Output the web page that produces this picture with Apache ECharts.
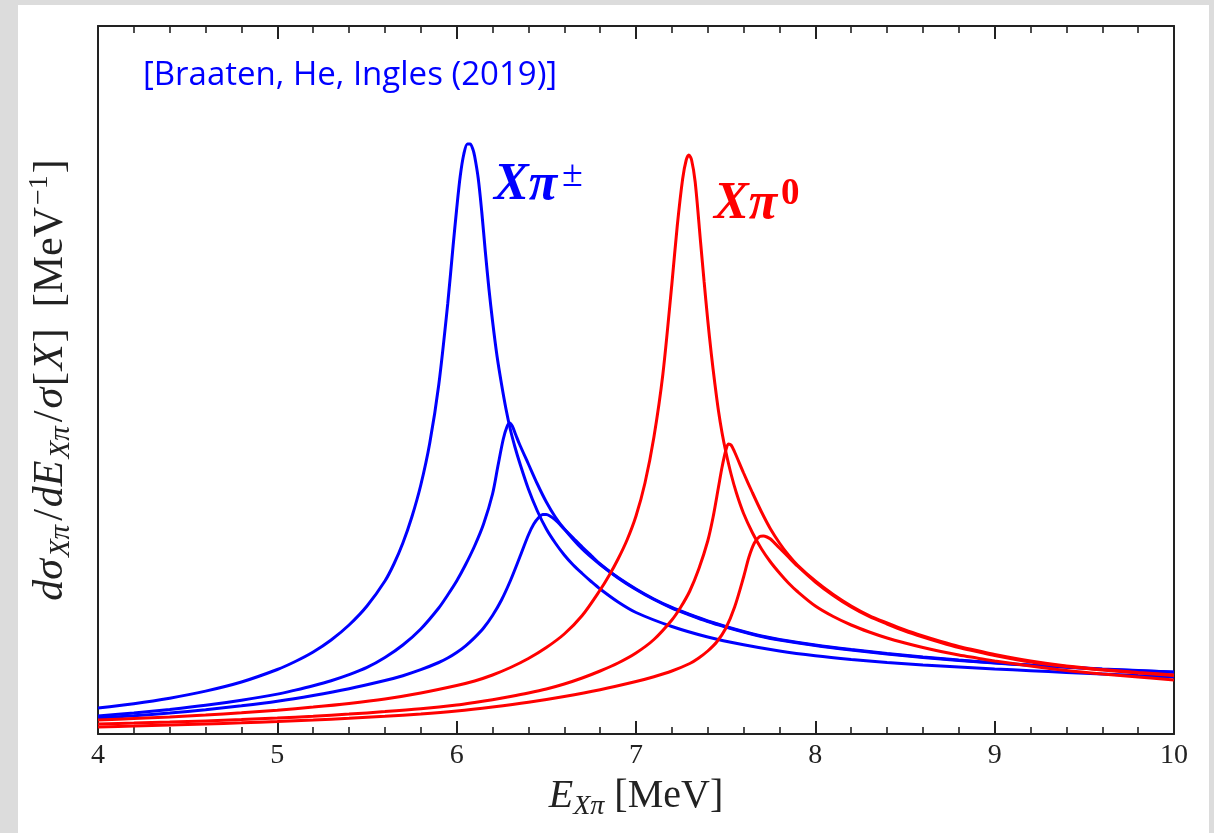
<!DOCTYPE html>
<html>
<head>
<meta charset="utf-8">
<script src="https://cdn.jsdelivr.net/npm/echarts@6/dist/echarts.min.js"></script>
<style>
  html, body { margin: 0; padding: 0; background: #dcdcdc; }
  #panel { position: absolute; left: 18px; top: 5px; width: 1191px; height: 828px; background: #ffffff; }
  #chart { position: absolute; left: 0; top: 0; width: 1214px; height: 833px; }
</style>
</head>
<body>
<div id="panel"></div>
<div id="chart"></div>
<script>
// x: E_{Xpi} in MeV, y: arbitrary units (the axis has no tick labels)
const xTicks = [4, 5, 6, 7, 8, 9, 10];

const blue1 = [[4.0,26],[4.2,30.3],[4.4,35.8],[4.6,42.9],[4.8,52],[5.0,64.5],[5.1,72.5],[5.2,82],[5.3,94],[5.4,109],[5.5,128],[5.6,153],[5.65,170],[5.7,191],[5.75,217],[5.8,249],[5.85,291],[5.9,349],[5.95,430],[5.98,488],[6.0,525],[6.02,558],[6.04,580],[6.06,590],[6.075,590],[6.09,585],[6.1,578],[6.12,556],[6.14,522],[6.16,482],[6.18,445],[6.2,413],[6.225,378],[6.25,350],[6.275,325],[6.3,304],[6.325,287],[6.35,272],[6.4,245],[6.45,223],[6.5,205],[6.55,191],[6.6,179],[6.65,169],[6.7,160.5],[6.75,152.5],[6.8,145],[6.9,132],[7.0,121.5],[7.2,107.5],[7.4,97],[7.6,89.2],[7.8,83],[8.0,78.2],[8.2,74.5],[8.4,71.5],[8.6,69],[8.8,67],[9.0,65],[9.2,63.3],[9.4,61.6],[9.6,60.1],[9.8,58.5],[10.0,57]];
const blue2 = [[4.0,18],[4.2,21],[4.4,24.6],[4.6,28.7],[4.8,33.8],[5.0,39.9],[5.1,43.9],[5.2,48.3],[5.3,53.3],[5.4,59.4],[5.5,66.6],[5.6,76.5],[5.7,89],[5.8,105],[5.9,126],[5.95,139],[6.0,153],[6.05,169.5],[6.1,188],[6.15,210],[6.2,240],[6.23,268],[6.26,295],[6.28,307],[6.295,311],[6.31,308],[6.33,299],[6.35,290],[6.4,270],[6.45,250],[6.5,232],[6.55,217],[6.6,205],[6.7,185],[6.8,169.5],[6.9,156.5],[7.0,145],[7.1,135],[7.2,126.5],[7.3,119.5],[7.4,113],[7.5,107.5],[7.6,102.5],[7.7,98],[7.8,94.5],[8.0,89],[8.2,84.5],[8.4,80.5],[8.6,77],[8.8,74],[9.0,71.3],[9.2,69],[9.4,67],[9.6,65],[9.8,63.5],[10.0,62]];
const blue3 = [[4.0,16],[4.2,18.3],[4.4,21],[4.6,24.3],[4.8,28.2],[5.0,32.7],[5.2,38.5],[5.4,45.3],[5.6,53.5],[5.7,58.3],[5.8,64.3],[5.9,71.5],[5.95,76],[6.0,81.5],[6.05,88.2],[6.1,96.4],[6.15,106],[6.2,118.5],[6.25,134],[6.3,153.5],[6.35,176],[6.4,199],[6.43,210],[6.46,217],[6.48,219.5],[6.5,219.5],[6.52,218],[6.55,214],[6.6,205],[6.65,196],[6.7,187],[6.75,178.5],[6.8,170],[6.9,156],[7.0,144.5],[7.1,134.5],[7.2,126],[7.3,119],[7.4,112.5],[7.5,107],[7.6,102],[7.7,97.5],[7.8,94],[8.0,88.5],[8.2,84],[8.4,80],[8.6,76.5],[8.8,73.5],[9.0,71],[9.2,68.7],[9.4,66.7],[9.6,64.8],[9.8,63.3],[10.0,61.8]];
const red1 = [[4.0,14],[4.2,15.5],[4.4,17.1],[4.6,19],[4.8,21.2],[5.0,23.8],[5.2,26.9],[5.4,30.5],[5.6,35],[5.8,41],[6.0,48.5],[6.1,53],[6.2,59],[6.3,66.5],[6.4,75.5],[6.5,86.5],[6.6,100],[6.7,118.5],[6.8,144],[6.85,158.5],[6.9,175],[6.95,194],[7.0,218],[7.05,251],[7.1,297],[7.15,360],[7.2,450],[7.23,508],[7.26,555],[7.28,574],[7.295,579],[7.31,574],[7.33,552],[7.36,492],[7.38,452],[7.4,414],[7.42,380],[7.44,350],[7.46,323],[7.48,301],[7.5,283],[7.53,260],[7.56,241],[7.6,220.5],[7.65,201],[7.7,185],[7.75,172],[7.8,161],[7.85,151],[7.9,142.5],[8.0,128],[8.1,117.5],[8.2,109],[8.3,102],[8.4,96],[8.5,91],[8.6,86.5],[8.7,82.5],[8.8,79],[8.9,76],[9.0,73],[9.2,68],[9.4,63.5],[9.6,60],[9.8,57],[10.0,54]];
const red2 = [[4.0,10],[4.2,10.9],[4.4,11.9],[4.6,13.1],[4.8,14.4],[5.0,16],[5.2,17.8],[5.4,19.9],[5.6,22.4],[5.8,25.3],[6.0,29],[6.1,31.5],[6.2,34.3],[6.3,37.5],[6.4,41],[6.5,45],[6.6,50],[6.7,56],[6.8,63],[6.9,71],[7.0,81],[7.1,94.5],[7.2,114],[7.25,127],[7.3,143],[7.35,165],[7.4,193],[7.43,217],[7.46,247],[7.48,267],[7.5,283],[7.515,290],[7.53,289],[7.55,282],[7.6,261],[7.65,241],[7.7,222],[7.75,205],[7.8,191],[7.85,179],[7.9,169],[8.0,153],[8.1,139.5],[8.2,128],[8.3,118.5],[8.4,111],[8.5,104],[8.6,98],[8.7,92.5],[8.8,87.5],[8.9,83.5],[9.0,79.5],[9.2,73],[9.4,68],[9.6,64.5],[9.8,61.5],[10.0,59]];
const red3 = [[4.0,7],[4.2,7.9],[4.4,8.9],[4.6,10],[4.8,11.2],[5.0,12.5],[5.2,14],[5.4,15.7],[5.6,17.7],[5.8,20],[6.0,23],[6.2,27],[6.4,31.7],[6.6,37.5],[6.8,44.3],[7.0,52.5],[7.1,57.3],[7.2,63],[7.3,70.5],[7.35,76],[7.4,83],[7.45,92],[7.5,105.5],[7.55,127],[7.6,157],[7.63,177],[7.66,191],[7.69,197.5],[7.71,198],[7.73,197],[7.75,195],[7.8,186],[7.85,177],[7.9,168],[8.0,152],[8.1,138.5],[8.2,127],[8.3,117.5],[8.4,110],[8.5,103],[8.6,97],[8.7,91.5],[8.8,86.5],[8.9,82.5],[9.0,78.5],[9.2,72],[9.4,67.5],[9.6,64],[9.8,61],[10.0,58.5]];

const seriesNames = ['Xπ± (1)', 'Xπ± (2)', 'Xπ± (3)', 'Xπ0 (1)', 'Xπ0 (2)', 'Xπ0 (3)'];
const seriesData = [blue1, blue2, blue3, red1, red2, red3];
const seriesColors = ['#0000ff', '#0000ff', '#0000ff', '#ff0000', '#ff0000', '#ff0000'];

const serif = '"Liberation Serif", "DejaVu Serif", serif';
const axisColor = '#222222';

const chart = echarts.init(document.getElementById('chart'), null, { renderer: 'canvas' });

const xCommon = {
  type: 'value', min: 4, max: 10, interval: 1,
  axisLine: { show: true, onZero: false, lineStyle: { color: axisColor, width: 2 } },
  axisTick: { show: true, inside: true, length: 13, lineStyle: { color: axisColor, width: 2 } },
  minorTick: { show: true, splitNumber: 5, length: 7, lineStyle: { color: axisColor, width: 1.6 } },
  splitLine: { show: false }
};

const yRich = {
  i: { fontFamily: serif, fontStyle: 'italic', fontSize: 42, lineHeight: 50, color: '#222', padding: [0, 1, 0, 1] },
  s: { fontFamily: serif, fontStyle: 'italic', fontSize: 29, lineHeight: 30, verticalAlign: 'bottom', color: '#222', padding: [0, 3, 0, 1] },
  r: { fontFamily: serif, fontSize: 42, lineHeight: 50, color: '#222', padding: [0, 1, 0, 1] },
  p: { fontFamily: serif, fontSize: 28, lineHeight: 28, verticalAlign: 'top', color: '#222', padding: [0, 1, 0, 1] }
};

const option = {
  backgroundColor: 'transparent',
  animation: false,
  grid: { left: 98, top: 26, right: 40, bottom: 99, containLabel: false },
  xAxis: [
    Object.assign({}, xCommon, {
      position: 'bottom',
      axisLabel: { show: true, margin: 8, color: '#222', fontFamily: serif, fontSize: 28,
        formatter: v => xTicks.includes(v) ? String(v) : '' },
      name: '{i|E}{s|Xπ}{r| [MeV]}',
      nameLocation: 'middle', nameGap: 37,
      nameTextStyle: {
        color: '#222', fontFamily: serif, fontSize: 40,
        rich: {
          i: { fontFamily: serif, fontStyle: 'italic', fontSize: 40, lineHeight: 50, color: '#222' },
          s: { fontFamily: serif, fontStyle: 'italic', fontSize: 28, lineHeight: 30, verticalAlign: 'bottom', color: '#222' },
          r: { fontFamily: serif, fontSize: 40, lineHeight: 50, color: '#222' }
        }
      }
    }),
    Object.assign({}, xCommon, { position: 'top', axisLabel: { show: false } })
  ],
  yAxis: [
    {
      type: 'value', min: 0, max: 708, position: 'left',
      axisLine: { show: true, onZero: false, lineStyle: { color: axisColor, width: 2 } },
      axisTick: { show: false }, axisLabel: { show: false }, splitLine: { show: false },
      name: '{i|dσ}{s|Xπ}{r|/}{i|dE}{s|Xπ}{r|/}{i|σ}{r|[}{i|X}{r|]  [MeV}{p|−1}{r|]}',
      nameLocation: 'middle', nameGap: 22, nameRotate: 90,
      nameTextStyle: { color: '#222', fontFamily: serif, fontSize: 42, rich: yRich }
    },
    {
      type: 'value', min: 0, max: 708, position: 'right',
      axisLine: { show: true, onZero: false, lineStyle: { color: axisColor, width: 2 } },
      axisTick: { show: false }, axisLabel: { show: false }, splitLine: { show: false }
    }
  ],
  series: seriesData.map((d, i) => ({
    name: seriesNames[i],
    type: 'line',
    data: d,
    xAxisIndex: 0, yAxisIndex: 0,
    showSymbol: false,
    smooth: 0.3,
    clip: true,
    lineStyle: { color: seriesColors[i], width: 3 },
    itemStyle: { color: seriesColors[i] },
    z: 3
  })),
  graphic: [
    {
      type: 'text', left: 143, top: 59, z: 10,
      style: { text: '[Braaten, He, Ingles (2019)]', fill: '#0000ff',
        font: '33px "Open Sans", "Noto Sans", sans-serif' }
    },
    {
      type: 'text', left: 494, top: 157, z: 10,
      style: {
        text: '{m|Xπ}{p|±}', fill: '#0000ff',
        rich: {
          m: { fontFamily: serif, fontStyle: 'italic', fontWeight: 'bold', fontSize: 52, lineHeight: 58, fill: '#0000ff' },
          p: { fontFamily: serif, fontSize: 38, lineHeight: 38, verticalAlign: 'top', fill: '#0000ff', padding: [0, 0, 0, 5] }
        }
      }
    },
    {
      type: 'text', left: 714, top: 176, z: 10,
      style: {
        text: '{m|Xπ}{p|0}', fill: '#ff0000',
        rich: {
          m: { fontFamily: serif, fontStyle: 'italic', fontWeight: 'bold', fontSize: 52, lineHeight: 58, fill: '#ff0000' },
          p: { fontFamily: serif, fontWeight: 'bold', fontSize: 37, lineHeight: 38, verticalAlign: 'top', fill: '#ff0000', padding: [0, 0, 0, 4] }
        }
      }
    }
  ]
};
chart.setOption(option);
</script>
</body>
</html>
